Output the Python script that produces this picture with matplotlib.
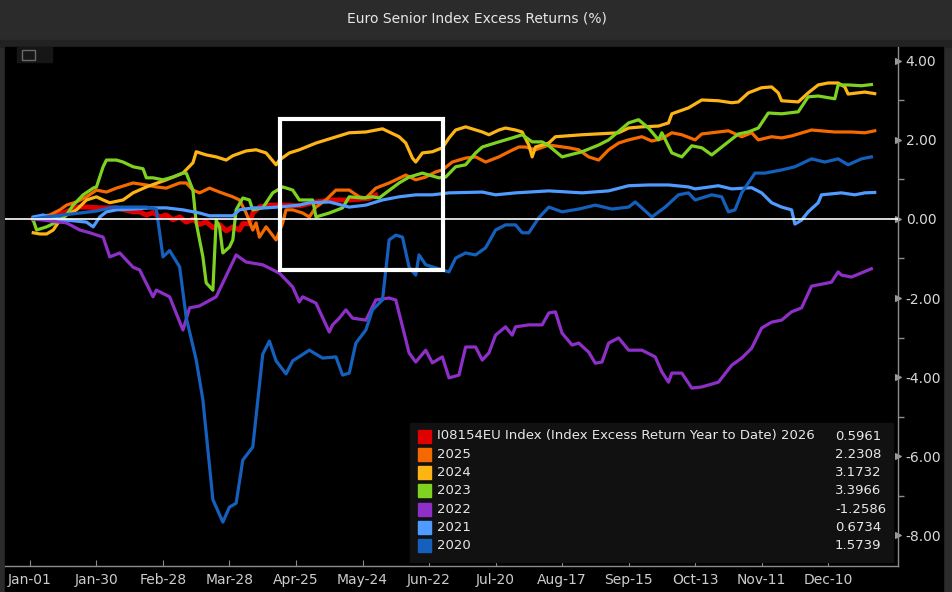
import matplotlib
matplotlib.use('Agg')
import matplotlib.pyplot as plt
from matplotlib.patches import Rectangle
from matplotlib.ticker import FixedLocator

# (business day since Jan-01, excess return YTD in %)
s2026 = [(1, 0.0), (6, 0.05), (11, 0.18), (14, 0.30), (17, 0.30), (21, 0.28), (26, 0.28),
         (31, 0.18), (33, 0.18), (35, 0.10), (37, 0.16), (39, 0.05), (41, 0.10), (43, -0.02),
         (45, 0.05), (47, -0.08), (49, -0.01), (51, -0.14), (53, -0.07), (55, -0.22), (57, -0.14),
         (59, -0.30), (61, -0.20), (63, -0.28), (64, -0.12), (66, -0.12), (67, 0.15), (69, 0.30),
         (72, 0.35), (76, 0.35), (81, 0.33), (86, 0.43), (91, 0.48), (96, 0.48), (102, 0.52),
         (104, 0.60)]

s2025 = [(1, 0.03), (6, 0.10), (9, 0.23), (11, 0.35), (14, 0.43), (17, 0.56), (20, 0.73),
         (23, 0.68), (26, 0.78), (31, 0.91), (35, 0.86), (38, 0.81), (41, 0.78), (45, 0.91),
         (47, 0.91), (49, 0.73), (51, 0.66), (54, 0.78), (57, 0.68), (61, 0.56), (63, 0.48),
         (65, 0.15), (67, -0.28), (68, -0.10), (69, -0.46), (71, -0.20), (74, -0.53), (76, -0.10),
         (77, 0.23), (79, 0.23), (82, 0.15), (84, 0.05), (86, 0.30), (89, 0.48), (92, 0.73),
         (96, 0.73), (99, 0.56), (101, 0.53), (104, 0.78), (108, 0.91), (110, 0.99), (113, 1.11),
         (116, 0.99), (119, 1.06), (122, 1.19), (124, 1.24), (127, 1.44), (131, 1.54), (134, 1.57),
         (137, 1.44), (141, 1.57), (144, 1.70), (147, 1.82), (149, 1.82), (152, 1.75), (156, 1.87),
         (162, 1.80), (165, 1.75), (168, 1.57), (171, 1.49), (174, 1.75), (177, 1.92), (180, 2.00),
         (184, 2.08), (187, 1.97), (190, 2.03), (193, 2.18), (196, 2.13), (200, 2.00), (202, 2.15),
         (207, 2.20), (210, 2.23), (214, 2.08), (217, 2.18), (219, 2.00), (223, 2.08), (226, 2.05),
         (229, 2.10), (235, 2.25), (242, 2.20), (247, 2.20), (251, 2.18), (254, 2.23)]

s2024 = [(1, -0.35), (3, -0.38), (5, -0.38), (7, -0.28), (9, -0.03), (11, 0.10), (14, 0.23),
         (17, 0.48), (20, 0.56), (22, 0.48), (24, 0.41), (28, 0.48), (31, 0.66), (35, 0.81),
         (41, 0.99), (46, 1.16), (49, 1.42), (50, 1.70), (53, 1.62), (56, 1.57), (59, 1.49),
         (61, 1.60), (65, 1.72), (68, 1.75), (71, 1.67), (74, 1.37), (75, 1.49), (78, 1.67),
         (81, 1.75), (86, 1.92), (91, 2.05), (96, 2.18), (101, 2.20), (106, 2.28), (108, 2.20),
         (111, 2.08), (113, 1.92), (115, 1.54), (116, 1.44), (118, 1.67), (121, 1.70), (124, 1.80),
         (126, 2.05), (128, 2.25), (131, 2.33), (136, 2.20), (138, 2.13), (141, 2.25), (143, 2.30),
         (146, 2.25), (148, 2.20), (150, 1.87), (151, 1.57), (152, 1.82), (156, 1.92), (158, 2.08),
         (166, 2.13), (177, 2.18), (180, 2.30), (184, 2.33), (189, 2.35), (192, 2.43), (193, 2.66),
         (198, 2.81), (202, 3.01), (207, 2.99), (211, 2.94), (213, 2.96), (216, 3.19), (220, 3.32),
         (223, 3.34), (225, 3.19), (226, 2.99), (231, 2.96), (234, 3.19), (237, 3.39), (240, 3.44),
         (243, 3.44), (245, 3.34), (246, 3.16), (251, 3.21), (254, 3.17)]

s2023 = [(1, -0.03), (2, -0.28), (5, -0.20), (8, -0.08), (11, 0.10), (13, 0.35), (16, 0.61),
         (19, 0.78), (20, 0.81), (22, 1.32), (23, 1.49), (26, 1.49), (28, 1.44), (31, 1.32),
         (34, 1.27), (35, 1.04), (37, 1.04), (40, 0.99), (43, 1.06), (46, 1.16), (47, 1.16),
         (49, 0.73), (50, -0.10), (52, -0.96), (53, -1.62), (55, -1.80), (56, -0.03), (57, -0.20),
         (58, -0.86), (60, -0.71), (61, -0.53), (62, 0.23), (64, 0.53), (66, 0.48), (67, 0.23),
         (70, 0.28), (73, 0.66), (76, 0.81), (79, 0.73), (81, 0.48), (85, 0.48), (86, 0.05),
         (90, 0.15), (94, 0.28), (96, 0.56), (100, 0.53), (103, 0.56), (105, 0.53), (107, 0.66),
         (111, 0.91), (114, 1.06), (118, 1.16), (120, 1.11), (123, 1.04), (125, 1.06), (128, 1.32),
         (131, 1.37), (134, 1.67), (136, 1.82), (141, 1.95), (145, 2.05), (148, 2.13), (151, 1.95),
         (154, 1.95), (156, 1.85), (160, 1.57), (166, 1.70), (171, 1.87), (174, 2.00), (180, 2.43),
         (183, 2.51), (186, 2.30), (189, 2.00), (190, 2.18), (193, 1.67), (196, 1.57), (199, 1.85),
         (202, 1.80), (205, 1.62), (208, 1.82), (213, 2.15), (216, 2.20), (219, 2.30), (222, 2.68),
         (226, 2.66), (231, 2.71), (234, 3.09), (237, 3.11), (242, 3.04), (243, 3.39), (246, 3.39),
         (250, 3.37), (253, 3.40)]

s2022 = [(1, 0.0), (11, -0.10), (15, -0.28), (18, -0.35), (22, -0.46), (24, -0.96), (27, -0.86),
         (31, -1.22), (33, -1.29), (37, -1.97), (38, -1.80), (42, -1.97), (46, -2.81), (48, -2.25),
         (51, -2.20), (56, -1.97), (62, -0.91), (65, -1.09), (70, -1.16), (75, -1.37), (79, -1.72),
         (81, -2.10), (82, -1.97), (86, -2.13), (90, -2.86), (91, -2.68), (93, -2.51), (95, -2.30),
         (97, -2.51), (101, -2.56), (104, -2.05), (108, -2.00), (110, -2.05), (114, -3.39),
         (116, -3.62), (119, -3.32), (121, -3.64), (124, -3.49), (126, -4.02), (129, -3.95),
         (131, -3.24), (134, -3.24), (136, -3.57), (138, -3.39), (140, -2.94), (143, -2.73),
         (145, -2.94), (146, -2.73), (150, -2.68), (154, -2.68), (156, -2.38), (158, -2.35),
         (160, -2.89), (163, -3.19), (165, -3.14), (168, -3.37), (170, -3.65), (172, -3.62),
         (174, -3.14), (177, -3.01), (180, -3.32), (184, -3.32), (188, -3.49), (190, -3.87),
         (192, -4.13), (193, -3.90), (196, -3.90), (199, -4.28), (202, -4.25), (207, -4.13),
         (211, -3.70), (214, -3.52), (217, -3.27), (220, -2.76), (223, -2.61), (226, -2.56),
         (229, -2.35), (232, -2.25), (235, -1.70), (241, -1.60), (243, -1.34), (244, -1.42),
         (247, -1.47), (253, -1.26)]

s2021 = [(1, 0.05), (4, 0.10), (7, 0.03), (11, -0.03), (17, -0.08), (19, -0.20), (21, 0.05),
         (23, 0.18), (26, 0.23), (31, 0.25), (36, 0.28), (41, 0.28), (46, 0.23), (51, 0.15),
         (54, 0.08), (61, 0.08), (63, 0.23), (67, 0.28), (71, 0.28), (76, 0.31), (81, 0.35),
         (84, 0.41), (90, 0.43), (96, 0.30), (101, 0.35), (106, 0.48), (111, 0.56), (116, 0.61),
         (121, 0.61), (126, 0.66), (136, 0.68), (140, 0.61), (146, 0.66), (156, 0.71), (166, 0.66),
         (174, 0.71), (180, 0.84), (186, 0.86), (192, 0.86), (198, 0.81), (200, 0.76), (207, 0.84),
         (211, 0.76), (217, 0.79), (220, 0.66), (223, 0.41), (226, 0.30), (229, 0.23), (230, -0.13),
         (232, -0.03), (234, 0.18), (237, 0.41), (238, 0.61), (244, 0.66), (248, 0.61), (251, 0.66),
         (254, 0.67)]

s2020 = [(1, 0.0), (5, 0.05), (10, 0.10), (15, 0.15), (20, 0.20), (25, 0.30), (30, 0.30),
         (35, 0.30), (38, 0.25), (40, -0.96), (42, -0.80), (45, -1.21), (47, -2.50), (50, -3.57),
         (52, -4.58), (55, -7.10), (58, -7.67), (60, -7.29), (62, -7.19), (64, -6.10), (67, -5.77),
         (70, -3.42), (72, -3.09), (74, -3.59), (77, -3.92), (79, -3.59), (84, -3.32), (88, -3.52),
         (92, -3.49), (94, -3.95), (96, -3.90), (98, -3.14), (101, -2.81), (103, -2.30),
         (106, -2.05), (108, -0.53), (110, -0.41), (112, -0.46), (114, -1.22), (116, -1.42),
         (117, -0.91), (119, -1.16), (124, -1.29), (126, -1.34), (128, -0.99), (131, -0.86),
         (134, -0.91), (137, -0.73), (140, -0.28), (143, -0.15), (146, -0.15), (148, -0.35),
         (150, -0.35), (153, 0.03), (156, 0.30), (160, 0.18), (165, 0.25), (170, 0.35),
         (175, 0.25), (180, 0.30), (182, 0.43), (187, 0.05), (191, 0.30), (195, 0.61), (198, 0.66),
         (200, 0.48), (205, 0.61), (208, 0.56), (210, 0.18), (212, 0.23), (214, 0.66), (218, 1.16),
         (221, 1.16), (226, 1.24), (230, 1.32), (235, 1.52), (239, 1.44), (243, 1.52), (246, 1.37),
         (250, 1.52), (253, 1.57)]

series = [s2026, s2025, s2024, s2023, s2022, s2021, s2020]
legend_labels = ['I08154EU Index (Index Excess Return Year to Date) 2026',
                 '2025', '2024', '2023', '2022', '2021', '2020']
last_values = ['0.5961', '2.2308', '3.1732', '3.3966', '-1.2586', '0.6734', '1.5739']
colors = ['#e00000', '#f56a00', '#fdb515', '#7ed321', '#8e2fc7', '#4f9bff', '#1560bd']
widths = [3.6, 2.3, 2.3, 2.3, 2.3, 2.3, 2.3]

tick_days = [0, 20, 40, 60, 80, 100, 120, 140, 160, 180, 200, 220, 240]
tick_labels = ['Jan-01', 'Jan-30', 'Feb-28', 'Mar-28', 'Apr-25', 'May-24', 'Jun-22',
               'Jul-20', 'Aug-17', 'Sep-15', 'Oct-13', 'Nov-11', 'Dec-10']
y_major = [4, 2, 0, -2, -4, -6, -8]
y_minor = [3, 1, -1, -3, -5, -7]

# highlighted window (days, returns)
box_days = (75.2, 124.2)
box_vals = (-1.29, 2.53)

W, H = 953, 592
fig = plt.figure(figsize=(W / 100, H / 100), dpi=100, facecolor='#2b2b2b')
fig.patches.append(Rectangle((0, 1 - 47 / H), 1, 7 / H, transform=fig.transFigure,
                             color='#222222', zorder=-5))
fig.patches.append(Rectangle((5 / W, 0), 938 / W, 1 - 47 / H, transform=fig.transFigure,
                             color='black', zorder=-5))
fig.text(0.5, 1 - 19 / H, 'Euro Senior Index Excess Returns (%)', ha='center', va='center',
         color='#e6e6e6', fontsize=10, family='DejaVu Sans')

ax = fig.add_axes([5 / W, 26 / H, 893 / W, 1 - 47 / H - 26 / H])
ax.set_facecolor('black')

for s, c, lw in zip(series, colors, widths):
    xs = [p[0] for p in s]
    ys = [p[1] for p in s]
    ax.plot(xs, ys, color=c, lw=lw, solid_joinstyle='round', zorder=3)

ax.axhline(0, color='white', lw=1.2, zorder=4)
ax.add_patch(Rectangle((box_days[0], box_vals[0]), box_days[1] - box_days[0],
                       box_vals[1] - box_vals[0], fill=False, ec='white', lw=3, zorder=5))

ax.set_xlim(-7.5, 261)
ax.set_ylim(-8.78, 4.35)

ax.yaxis.tick_right()
ax.set_yticks(y_major, [f'{v:.2f}' for v in y_major])
ax.yaxis.set_minor_locator(FixedLocator(y_minor))
ax.set_xticks(tick_days, tick_labels)

tick_font = ['Liberation Sans Narrow', 'DejaVu Sans']
ax.tick_params(axis='y', which='major', colors='#d8d8d8', labelsize=10, pad=2)
ax.tick_params(axis='y', which='minor', color='#8c8c8c', length=4, width=1)
ax.tick_params(axis='x', colors='#cccccc', labelsize=10, direction='in', length=4,
               color='#8c8c8c', pad=5)
for lab in ax.get_xticklabels() + ax.get_yticklabels():
    lab.set_family(tick_font)
for t in ax.yaxis.get_major_ticks():
    t.tick2line.set_marker('>')
    t.tick2line.set_markersize(5)
    t.tick2line.set_markerfacecolor('#9a9a9a')
    t.tick2line.set_markeredgecolor('#9a9a9a')
ax.get_xticklines()[0].set_color('white')

for side in ['left', 'top']:
    ax.spines[side].set_visible(False)
for side in ['right', 'bottom']:
    ax.spines[side].set_color('#8c8c8c')
    ax.spines[side].set_linewidth(1)

# small chart-menu icon in the top-left corner
fig.patches.append(Rectangle((17 / W, 1 - 62 / H), 35 / W, 15 / H, transform=fig.transFigure,
                             color='#161616', zorder=6))
fig.patches.append(Rectangle((22 / W, 1 - 60 / H), 13 / W, 10 / H, transform=fig.transFigure,
                             fill=False, ec='#6a6a6a', lw=1, zorder=7))

# legend box, drawn in figure pixels
fig.patches.append(Rectangle((410 / W, 1 - 562 / H), 483 / W, 139 / H, transform=fig.transFigure,
                             color='#111111', zorder=6))
for i, (lab, val, c) in enumerate(zip(legend_labels, last_values, colors)):
    yc = 436 + i * 18.3
    fig.patches.append(Rectangle((418 / W, 1 - (yc + 6.5) / H), 13 / W, 13 / H,
                                 transform=fig.transFigure, color=c, zorder=7))
    fig.text(437 / W, 1 - yc / H, lab, ha='left', va='center', color='#e8e8e8',
             fontsize=9.5, family='DejaVu Sans', zorder=8)
    fig.text(835 / W, 1 - yc / H, val, ha='left', va='center', color='#e8e8e8',
             fontsize=9.5, family='DejaVu Sans', zorder=8)

fig.savefig('out.png', dpi=100, facecolor=fig.get_facecolor())
